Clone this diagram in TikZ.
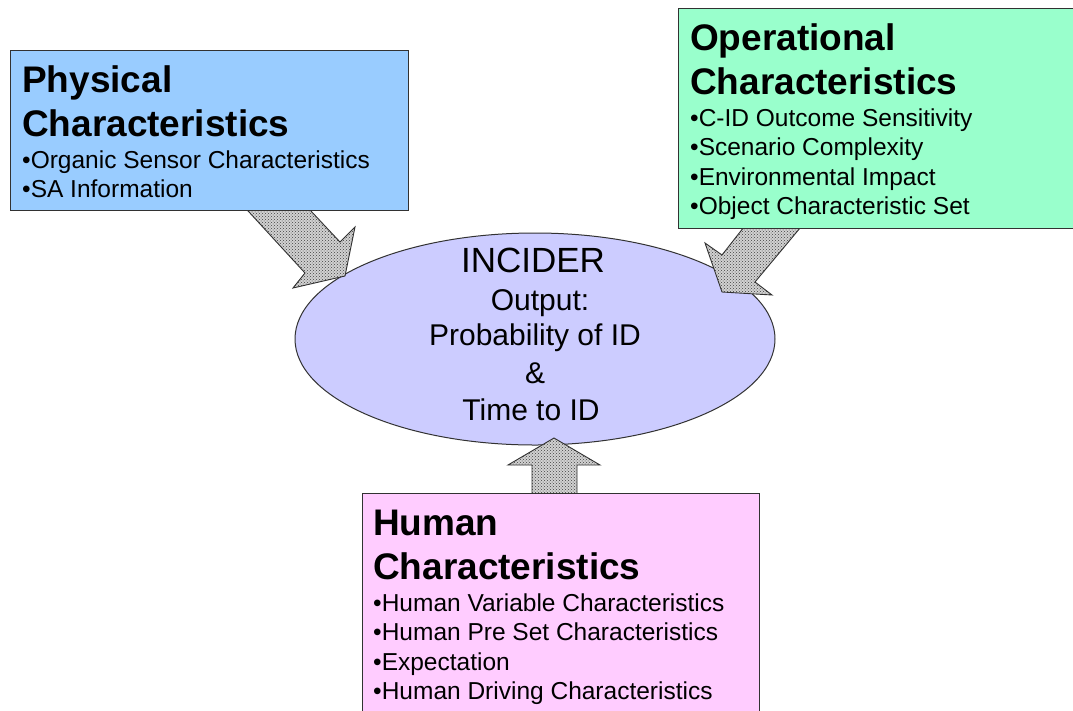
\documentclass[tikz,border=0pt]{standalone}
\usepackage{fontspec}
\setmainfont{Liberation Sans}
\usetikzlibrary{patterns,shapes.geometric}
\definecolor{physblue}{RGB}{153,204,255}
\definecolor{opgreen}{RGB}{153,255,204}
\definecolor{humpink}{RGB}{255,204,255}
\definecolor{corelav}{RGB}{204,204,255}
\definecolor{edgegray}{RGB}{50,50,50}
\begin{document}
\begin{tikzpicture}[x=1pt,y=-1pt,
  box/.style={draw=edgegray, line width=1pt, rectangle, anchor=north west, inner sep=0pt},
  title/.style={anchor=base west, inner sep=0pt, font=\fontsize{37}{44}\selectfont\bfseries},
  item/.style={anchor=base west, inner sep=0pt, font=\fontsize{24.5}{29}\selectfont},
  coretext/.style={anchor=base, inner sep=0pt, font=\fontsize{30}{36}\selectfont},
  blockarrow/.style={draw=edgegray, line width=0.9pt, line join=miter,
    preaction={fill=gray!35}, pattern=crosshatch dots, pattern color=black!75}
]
\useasboundingbox (0,0) rectangle (1073,710);
\fill[white] (0,0) rectangle (1073,710);

% central ellipse
\node[ellipse, draw=edgegray, line width=1pt, fill=corelav,
      minimum width=480pt, minimum height=212pt, inner sep=0pt] (core) at (535,339) {};
\node[coretext, font=\fontsize{35}{40}\selectfont] (c1) at (533,272) {INCIDER};
\node[coretext] (c2) at (540,310) {Output:};
\node[coretext] (c3) at (535,345) {Probability of ID};
\node[coretext] (c4) at (535,383) {\&};
\node[coretext] (c5) at (531,420) {Time to ID};

% block arrows
\filldraw[blockarrow] (238,200) -- (300.6,200) -- (340,242) -- (355,227) -- (345,276)
   -- (293,288) -- (305,273) -- cycle;
\filldraw[blockarrow] (751,218) -- (808.4,218) -- (755,282) -- (772,295) -- (722,292)
   -- (705,243) -- (722,255) -- cycle;
\filldraw[blockarrow] (532,500) -- (532,465) -- (508,465) -- (554,438) -- (600,465)
   -- (577,465) -- (577,500) -- cycle;

% physical box
\node[box, fill=physblue, minimum width=398pt, minimum height=160pt] (phys) at (10,50) {};
\node[title] (p1) at (22,92) {Physical};
\node[title] (p2) at (22,136) {Characteristics};
\node[item] (p3) at (22,168) {•Organic Sensor Characteristics};
\node[item] (p4) at (22,197) {•SA Information};

% operational box
\node[box, fill=opgreen, minimum width=410pt, minimum height=220pt] (oper) at (678,8) {};
\node[title] (o1) at (690,50) {Operational};
\node[title] (o2) at (690,94) {Characteristics};
\node[item] (o3) at (690,126) {•C-ID Outcome Sensitivity};
\node[item] (o4) at (690,155) {•Scenario Complexity};
\node[item] (o5) at (690,185) {•Environmental Impact};
\node[item] (o6) at (690,214) {•Object Characteristic Set};

% human box
\node[box, fill=humpink, minimum width=397pt, minimum height=240pt] (hum) at (362,493) {};
\node[title] (h1) at (373,535) {Human};
\node[title] (h2) at (373,579) {Characteristics};
\node[item] (h3) at (373,611) {•Human Variable Characteristics};
\node[item] (h4) at (373,640) {•Human Pre Set Characteristics};
\node[item] (h5) at (373,670) {•Expectation};
\node[item] (h6) at (373,699) {•Human Driving Characteristics};
\end{tikzpicture}
\end{document}
